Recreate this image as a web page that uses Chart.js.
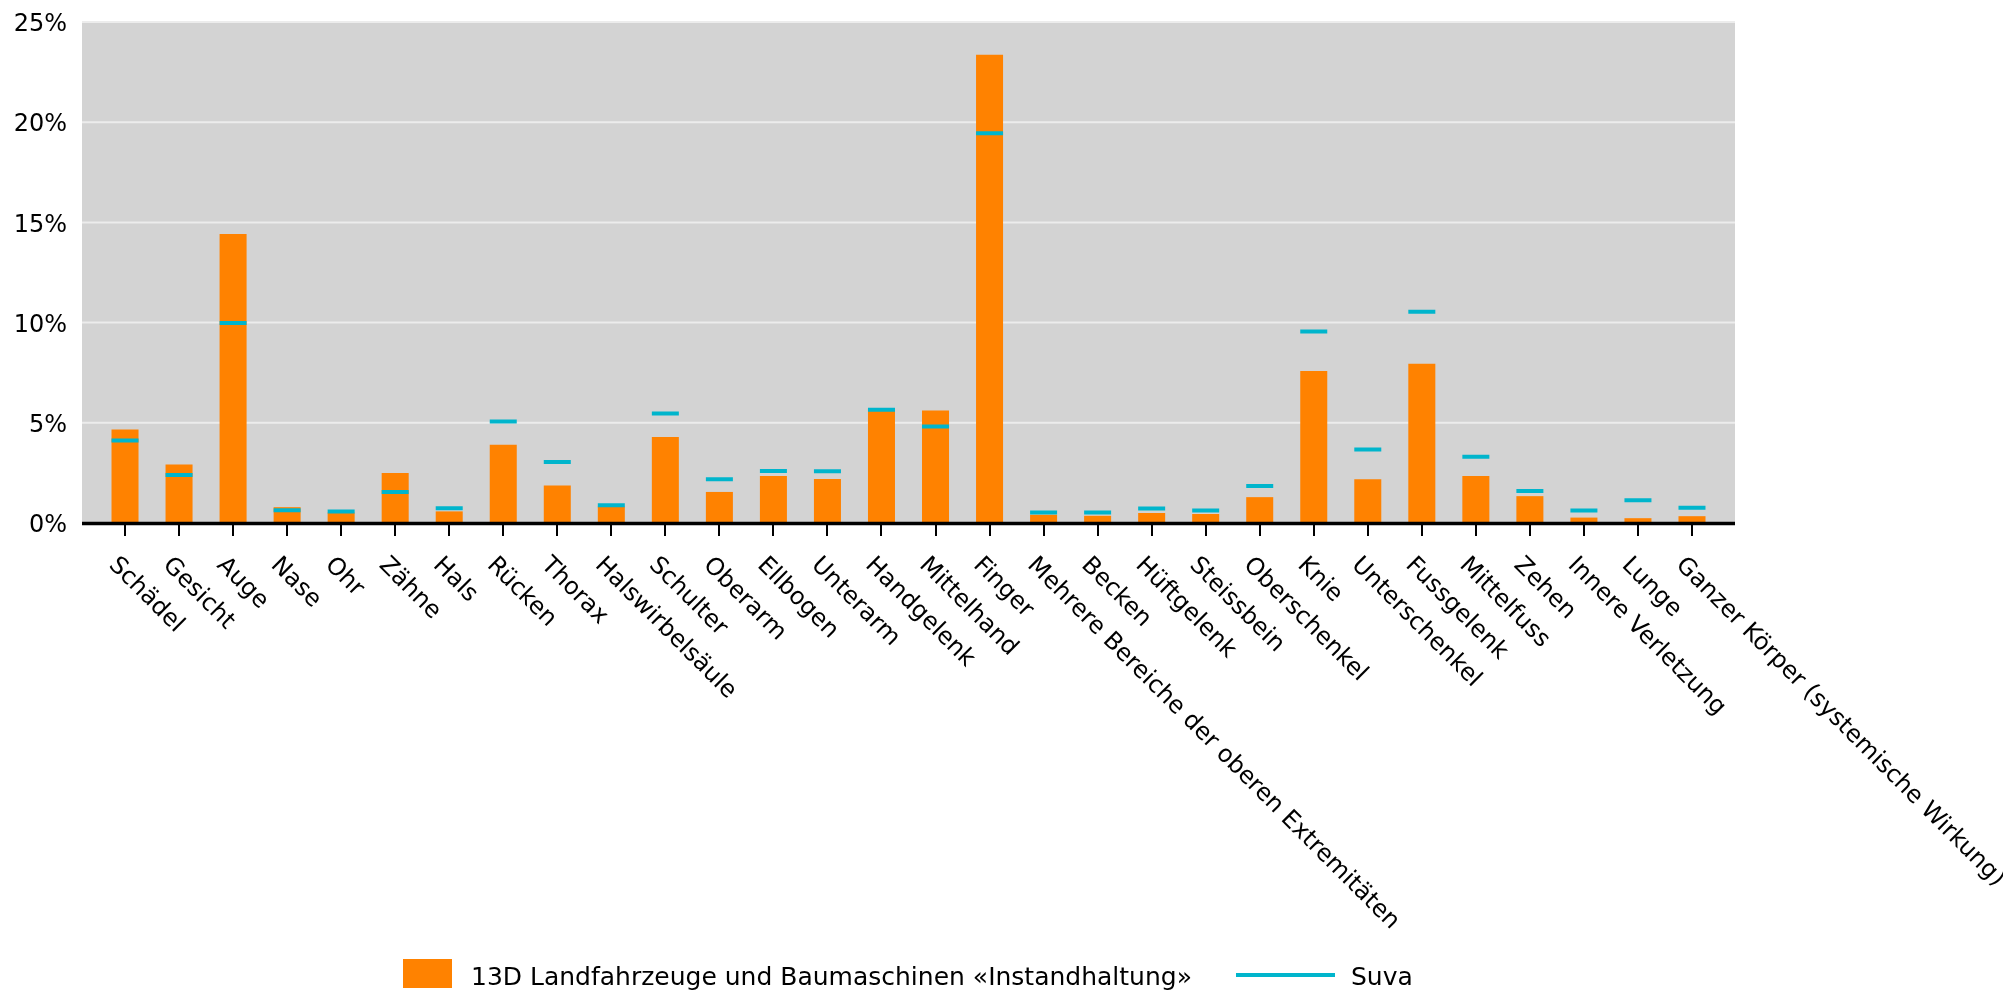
<!DOCTYPE html>
<html>
<head>
<meta charset="utf-8">
<script src="https://cdn.jsdelivr.net/npm/chart.js@4"></script>
<style>
  body { margin: 0; background: #fff; }
  #wrap { width: 2003px; height: 991px; }
</style>
</head>
<body>
<div id="wrap"><canvas id="injuryChart" width="2003" height="991"></canvas></div>
<script>
const categories = [
  "Schädel", "Gesicht", "Auge", "Nase", "Ohr", "Zähne", "Hals", "Rücken", "Thorax",
  "Halswirbelsäule", "Schulter", "Oberarm", "Ellbogen", "Unterarm", "Handgelenk",
  "Mittelhand", "Finger", "Mehrere Bereiche der oberen Extremitäten", "Becken",
  "Hüftgelenk", "Steissbein", "Oberschenkel", "Knie", "Unterschenkel", "Fussgelenk",
  "Mittelfuss", "Zehen", "Innere Verletzung", "Lunge", "Ganzer Körper (systemische Wirkung)"
];

// share of cases in %
const branchValues = [
  4.67, 2.92, 14.42, 0.79, 0.52, 2.49, 0.58, 3.91, 1.87, 0.82,
  4.29, 1.55, 2.34, 2.20, 5.72, 5.61, 23.37, 0.41, 0.36, 0.50,
  0.45, 1.29, 7.59, 2.18, 7.95, 2.34, 1.34, 0.27, 0.24, 0.34
];
const suvaValues = [
  4.12, 2.40, 9.98, 0.64, 0.58, 1.55, 0.74, 5.07, 3.04, 0.89,
  5.46, 2.18, 2.59, 2.58, 5.65, 4.81, 19.45, 0.52, 0.53, 0.72,
  0.62, 1.85, 9.55, 3.67, 10.54, 3.30, 1.60, 0.62, 1.13, 0.76
];
const yTicks = [0, 5, 10, 15, 20, 25];

const branchLabel = "13D Landfahrzeuge und Baumaschinen «Instandhaltung»";
const suvaLabel = "Suva";

const ORANGE = "#ff8200";
const CYAN = "#00b5cc";
const FONT = "DejaVu Sans";
const EXTRA = 16; // grey area reaches a bit past the outer categories

const plotDecor = {
  id: "plotDecor",
  beforeDraw(chart) {
    const { ctx, chartArea: a, scales: { y } } = chart;
    ctx.save();
    ctx.fillStyle = "#d3d3d3";
    ctx.fillRect(a.left - EXTRA, a.top, a.right - a.left + 2 * EXTRA, a.bottom - a.top);
    ctx.strokeStyle = "#ececec";
    ctx.lineWidth = 2;
    yTicks.forEach((v) => {
      if (v === 0) return;
      const py = y.getPixelForValue(v);
      ctx.beginPath();
      ctx.moveTo(a.left - EXTRA, py);
      ctx.lineTo(a.right + EXTRA, py);
      ctx.stroke();
    });
    ctx.restore();
  },
  afterDatasetsDraw(chart) {
    const { ctx, chartArea: a, scales: { y } } = chart;
    const py = y.getPixelForValue(0);
    ctx.save();
    ctx.strokeStyle = "#000";
    ctx.lineWidth = 3.5;
    ctx.beginPath();
    ctx.moveTo(a.left - EXTRA, py + 0.5);
    ctx.lineTo(a.right + EXTRA, py + 0.5);
    ctx.stroke();
    ctx.restore();
  },
  afterDraw(chart) {
    const { ctx, scales: { x } } = chart;
    ctx.save();
    // rotated category labels, reading downwards from the tick
    ctx.fillStyle = "#000";
    ctx.font = `24px "${FONT}"`;
    ctx.textAlign = "left";
    ctx.textBaseline = "alphabetic";
    categories.forEach((label, i) => {
      const px = x.getPixelForValue(i);
      ctx.save();
      ctx.translate(px - 17, 566);
      ctx.rotate(Math.PI / 4);
      ctx.fillText(label, 0, 0);
      ctx.restore();
    });

    // legend
    ctx.font = `25px "${FONT}"`;
    ctx.fillStyle = ORANGE;
    ctx.fillRect(403, 959, 49, 29);
    ctx.fillStyle = "#000";
    ctx.fillText(branchLabel, 471, 985);
    ctx.strokeStyle = CYAN;
    ctx.lineWidth = 4;
    ctx.beginPath();
    ctx.moveTo(1236, 975);
    ctx.lineTo(1335, 975);
    ctx.stroke();
    ctx.fillText(suvaLabel, 1351, 985);
    ctx.restore();
  }
};

const ctx = document.getElementById("injuryChart").getContext("2d");

new Chart(ctx, {
  data: {
    labels: categories,
    datasets: [
      {
        type: "line",
        label: suvaLabel,
        data: suvaValues,
        showLine: false,
        pointStyle: "line",
        pointRadius: 13.5,
        pointHoverRadius: 13.5,
        pointBorderWidth: 4,
        pointBorderColor: CYAN,
        borderColor: CYAN,
        order: 0,
      },
      {
        type: "bar",
        label: branchLabel,
        data: branchValues,
        backgroundColor: ORANGE,
        barPercentage: 0.5,
        categoryPercentage: 1,
        order: 1,
      },
    ],
  },
  options: {
    responsive: false,
    animation: false,
    layout: { padding: { top: 22, right: 284, left: 0, bottom: 0 } },
    plugins: {
      legend: { display: false },
      tooltip: { enabled: false },
    },
    scales: {
      x: {
        type: "category",
        offset: true,
        grid: {
          display: true,
          offset: false,
          drawOnChartArea: false,
          drawTicks: true,
          tickLength: 13,
          color: "#000",
          lineWidth: 2,
        },
        border: { display: false },
        ticks: { display: false, autoSkip: false },
        afterFit(scale) {
          scale.height = 468;
          scale.paddingLeft = 0;
          scale.paddingRight = 0;
        },
      },
      y: {
        min: 0,
        max: 25,
        afterBuildTicks(scale) {
          scale.ticks = yTicks.map((v) => ({ value: v }));
        },
        grid: { display: false, drawTicks: false },
        border: { display: false },
        ticks: {
          padding: 31,
          labelOffset: 3,
          color: "#000",
          font: { family: FONT, size: 24 },
          callback: function (value) {
            return value + "%";
          },
        },
        afterFit(scale) {
          scale.width = 98;
          scale.paddingTop = 0;
          scale.paddingBottom = 0;
        },
      },
    },
  },
  plugins: [plotDecor],
});
</script>
</body>
</html>
